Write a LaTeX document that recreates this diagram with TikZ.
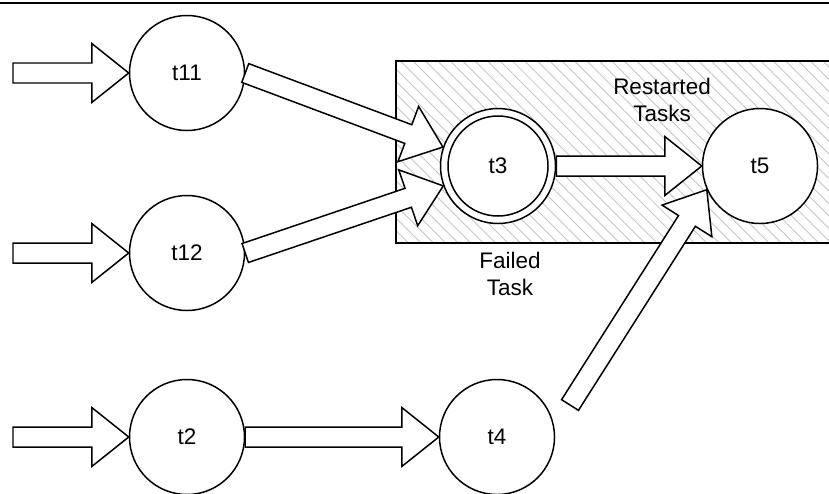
\documentclass[tikz,border=0pt]{standalone}
\usepackage{fontspec}
\setmainfont{Liberation Sans}
\usepackage{tikz}
\usetikzlibrary{calc}
\usetikzlibrary{patterns.meta}

\tikzset{
    task/.style={draw, circle, line width=0.85pt, minimum size=2.3cm, inner sep=0pt, font=\fontsize{12.8}{15.4}\selectfont},
    blockline/.style={draw, fill=white, line width=0.85pt, line join=miter},
    note/.style={align=center, font=\fontsize{12.8}{15.4}\selectfont},
}
\newcommand{\arrshaft}{0.2cm}
\newcommand{\arrhead}{0.59cm}
\newcommand{\arrlen}{0.74cm}
\newcommand{\blockarrow}[2]{%
    \draw[blockline] ($(#1)!\arrshaft!90:(#2)$) -- ($(#2)!\arrlen!(#1)!\arrshaft!-90:(#1)$) -- ($(#2)!\arrlen!(#1)!\arrhead!-90:(#1)$) -- (#2) -- ($(#2)!\arrlen!(#1)!\arrhead!90:(#1)$) -- ($(#2)!\arrlen!(#1)!\arrshaft!90:(#1)$) -- ($(#1)!\arrshaft!-90:(#2)$) -- cycle;
}

\begin{document}
\begin{tikzpicture}
    \useasboundingbox (0, 0) rectangle (16.58, 9.86);
    \clip (0, 0) rectangle (16.58, 9.86);
    % top rule
    \draw[line width=1.1pt] (0, 9.80) -- (16.58, 9.80);

    % failed area
    \draw[line width=0.85pt, pattern={Lines[angle=-45, distance=5pt, line width=0.5pt]}, pattern color=gray!45] (7.92, 5.00) rectangle (16.9, 8.64);

    % tasks
    \node[task] (t11) at (3.74, 8.40) {t11};
    \node[task] (t12) at (3.74, 4.80) {t12};
    \node[task] (t2) at (3.74, 1.12) {t2};
    \node[task] (t4) at (9.94, 1.12) {t4};
    \node[task, fill=white] (t3) at (9.96, 6.54) {t3};
    \draw[line width=0.85pt] (t3) circle (1.0cm);
    \node[task, fill=white] (t5) at (15.20, 6.54) {t5};

    % labels
    \node[note] (restarted) at (13.24, 7.86) {Restarted\\Tasks};
    \node[note] (failed) at (10.20, 4.39) {Failed\\Task};

    % free ends
    \coordinate (s11) at (0.26, 8.40);
    \coordinate (s12) at (0.26, 4.80);
    \coordinate (s2) at (0.26, 1.12);
    \coordinate (s4) at (11.40, 1.76);

    % arrows
    \blockarrow{s11}{t11.west}
    \blockarrow{s12}{t12.west}
    \blockarrow{s2}{t2.west}
    \blockarrow{t11.east}{t3.161}
    \blockarrow{t12.east}{t3.200}
    \blockarrow{t3.east}{t5.west}
    \blockarrow{t2.east}{t4.west}
    \blockarrow{s4}{t5.204}

\end{tikzpicture}
\end{document}
